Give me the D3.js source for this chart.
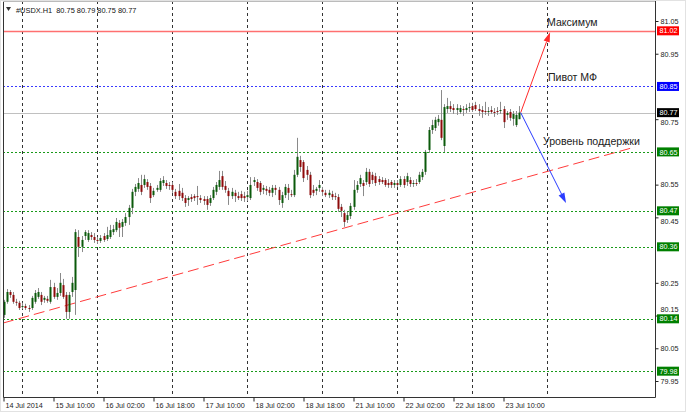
<!DOCTYPE html>
<html><head><meta charset="utf-8">
<script src="https://cdn.jsdelivr.net/npm/d3@7"></script>
<style>body{margin:0;background:#fff}svg{display:block;font-family:"Liberation Sans",Arial,sans-serif}</style>
</head><body><svg id="c" width="688" height="413"></svg>
<script>
const symbol = "#USDX.H1";
const timeLabels = ["14 Jul 2014","15 Jul 10:00","16 Jul 02:00","16 Jul 18:00","17 Jul 10:00","18 Jul 02:00","18 Jul 18:00","21 Jul 10:00","22 Jul 02:00","22 Jul 18:00","23 Jul 10:00"];
const timeLabelBars = [0,16,32,48,64,80,96,112,128,144,160];
const dayStartBars = [6,30,54,78,102,126,150,174];
const priceTicks = [79.95,80.05,80.15,80.25,80.45,80.55,80.75,80.95,81.05];

const opens = [80.152,80.192,80.222,80.213,80.192,80.189,80.176,80.179,80.173,80.173,80.192,80.207,80.213,80.198,80.201,80.192,80.237,80.207,80.219,80.243,80.213,80.161,80.222,80.228,80.390,80.360,80.393,80.381,80.396,80.390,80.381,80.378,80.393,80.384,80.390,80.405,80.411,80.433,80.421,80.433,80.451,80.479,80.528,80.537,80.549,80.549,80.558,80.546,80.518,80.534,80.534,80.555,80.555,80.549,80.549,80.528,80.531,80.525,80.509,80.503,80.512,80.515,80.515,80.509,80.506,80.506,80.494,80.509,80.528,80.543,80.576,80.546,80.531,80.515,80.525,80.515,80.521,80.515,80.512,80.509,80.558,80.558,80.555,80.534,80.537,80.534,80.525,80.540,80.534,80.494,80.518,80.540,80.521,80.518,80.580,80.625,80.619,80.595,80.580,80.534,80.531,80.540,80.534,80.525,80.518,80.521,80.515,80.512,80.482,80.463,80.442,80.454,80.482,80.534,80.552,80.555,80.558,80.589,80.580,80.576,80.567,80.564,80.564,80.555,80.558,80.549,80.555,80.549,80.567,80.558,80.564,80.552,80.555,80.558,80.573,80.589,80.656,80.717,80.723,80.741,80.748,80.668,80.781,80.790,80.784,80.778,80.772,80.781,80.778,80.784,80.790,80.793,80.781,80.778,80.775,80.772,80.778,80.772,80.775,80.775,80.781,80.763,80.772,80.751,80.732,80.750];
const highs = [80.198,80.231,80.228,80.222,80.201,80.195,80.189,80.186,80.182,80.210,80.228,80.234,80.222,80.210,80.210,80.259,80.250,80.234,80.280,80.262,80.222,80.222,80.268,80.414,80.411,80.393,80.411,80.411,80.405,80.402,80.390,80.396,80.402,80.421,80.427,80.427,80.448,80.442,80.445,80.463,80.488,80.537,80.552,80.570,80.580,80.580,80.567,80.555,80.540,80.549,80.570,80.576,80.564,80.558,80.558,80.537,80.552,80.540,80.518,80.515,80.521,80.521,80.546,80.518,80.515,80.515,80.518,80.543,80.558,80.592,80.592,80.561,80.540,80.540,80.534,80.528,80.531,80.528,80.531,80.573,80.573,80.567,80.561,80.549,80.546,80.543,80.549,80.549,80.543,80.528,80.552,80.552,80.534,80.595,80.693,80.638,80.625,80.607,80.589,80.549,80.543,80.564,80.543,80.534,80.534,80.531,80.525,80.521,80.491,80.473,80.467,80.494,80.564,80.561,80.580,80.564,80.601,80.598,80.589,80.586,80.576,80.573,80.570,80.567,80.564,80.564,80.564,80.576,80.576,80.586,80.573,80.564,80.567,80.589,80.598,80.656,80.726,80.748,80.757,80.763,80.839,80.796,80.815,80.805,80.796,80.796,80.793,80.790,80.796,80.800,80.800,80.803,80.796,80.790,80.803,80.787,80.790,80.784,80.787,80.803,80.790,80.775,80.781,80.775,80.775,80.790];
const lows = [80.143,80.186,80.204,80.186,80.180,80.167,80.170,80.167,80.161,80.167,80.186,80.201,80.182,80.189,80.189,80.186,80.201,80.198,80.210,80.201,80.140,80.140,80.207,80.152,80.329,80.344,80.381,80.375,80.381,80.372,80.369,80.372,80.375,80.378,80.384,80.396,80.405,80.390,80.390,80.424,80.427,80.460,80.515,80.528,80.518,80.540,80.534,80.494,80.512,80.528,80.528,80.546,80.537,80.534,80.525,80.506,80.503,80.500,80.482,80.485,80.497,80.500,80.488,80.494,80.488,80.473,80.485,80.503,80.518,80.534,80.534,80.525,80.488,80.506,80.497,80.503,80.500,80.497,80.500,80.503,80.546,80.531,80.518,80.521,80.518,80.515,80.512,80.518,80.488,80.479,80.509,80.503,80.512,80.512,80.573,80.589,80.558,80.564,80.509,80.515,80.518,80.528,80.515,80.512,80.509,80.503,80.503,80.467,80.451,80.421,80.433,80.445,80.473,80.525,80.543,80.515,80.549,80.543,80.552,80.546,80.549,80.552,80.543,80.540,80.540,80.540,80.543,80.543,80.540,80.546,80.543,80.543,80.546,80.552,80.564,80.580,80.647,80.705,80.714,80.730,80.686,80.650,80.769,80.772,80.766,80.763,80.766,80.760,80.769,80.772,80.772,80.775,80.760,80.754,80.763,80.760,80.766,80.757,80.763,80.766,80.723,80.748,80.745,80.730,80.726,80.750];
const closes = [80.192,80.222,80.213,80.192,80.189,80.173,80.179,80.173,80.170,80.204,80.219,80.222,80.192,80.204,80.195,80.237,80.207,80.219,80.250,80.207,80.161,80.213,80.250,80.405,80.360,80.381,80.405,80.402,80.390,80.381,80.378,80.387,80.381,80.396,80.411,80.414,80.436,80.418,80.436,80.451,80.479,80.528,80.543,80.555,80.528,80.567,80.543,80.509,80.531,80.540,80.561,80.564,80.546,80.546,80.534,80.515,80.515,80.509,80.494,80.509,80.506,80.509,80.512,80.503,80.500,80.488,80.509,80.534,80.549,80.564,80.543,80.534,80.515,80.528,80.515,80.509,80.509,80.509,80.518,80.549,80.564,80.540,80.528,80.540,80.531,80.525,80.540,80.534,80.503,80.518,80.543,80.525,80.518,80.580,80.635,80.604,80.570,80.580,80.518,80.525,80.537,80.549,80.528,80.518,80.525,80.512,80.512,80.476,80.470,80.436,80.457,80.485,80.534,80.549,80.570,80.546,80.589,80.552,80.564,80.555,80.558,80.558,80.549,80.549,80.549,80.555,80.549,80.567,80.549,80.576,80.552,80.555,80.552,80.580,80.589,80.650,80.717,80.732,80.748,80.751,80.693,80.787,80.790,80.781,80.778,80.784,80.784,80.778,80.784,80.787,80.778,80.781,80.775,80.772,80.772,80.775,80.772,80.769,80.772,80.778,80.741,80.769,80.754,80.766,80.763,80.770];

const resistance = 81.02;
const pivot = 80.85;
const bid = 80.77;
const supports = [80.65, 80.47, 80.36, 80.14, 79.98];
const trendLine = [[-0.16, 80.127], [202.1, 80.665]];
const arrowUp = [[165.5, 80.77], [174.9, 81.016]];
const arrowDown = [[165.5, 80.77], [180.0, 80.494]];
const notes = [
  {text: "Максимум", bar: 173.9, price: 81.035},
  {text: "Пивот МФ", bar: 174.2, price: 80.867},
  {text: "Уровень поддержки", bar: 172.6, price: 80.671}
];

const svg = d3.select("#c");
const L = 3, R = 655, T = 1, B = 397;
const x = d3.scaleLinear().domain([0, 165]).range([3.5, 3.5 + 165 * 3.125]);
const y = d3.scaleLinear().domain([79.95, 81.05]).range([381, 21]);
const fmt = d3.format(".2f");

// outer border
svg.append("rect").attr("x", 0.5).attr("y", 0.5).attr("width", 685).attr("height", 411)
  .attr("fill", "#fff").attr("stroke", "#e2e2e2");

svg.append("defs").append("clipPath").attr("id", "plot")
  .append("rect").attr("x", L).attr("y", T).attr("width", R - L).attr("height", B - T);
const g = svg.append("g").attr("clip-path", "url(#plot)");

// vertical grid at day starts
g.selectAll("line.vg").data(dayStartBars).join("line")
  .attr("x1", d => Math.round(x(d)) + 0.5).attr("x2", d => Math.round(x(d)) + 0.5)
  .attr("y1", T).attr("y2", B).attr("stroke", "#333").attr("stroke-dasharray", "3,3");

// level lines
const hline = (p, color, dash, w) => g.append("line")
  .attr("x1", L).attr("x2", R).attr("y1", Math.round(y(p)) + 0.5).attr("y2", Math.round(y(p)) + 0.5)
  .attr("stroke", color).attr("stroke-width", w || 1).attr("stroke-dasharray", dash || null);
hline(bid, "#c0c0c0");
hline(resistance, "#ff7070", null, 1.3);
hline(pivot, "#3a3aff", "2,2");
supports.forEach(p => hline(p, "#1a9a1a", "2,2"));

// trend line
g.append("line")
  .attr("x1", x(trendLine[0][0])).attr("y1", y(trendLine[0][1]))
  .attr("x2", x(trendLine[1][0])).attr("y2", y(trendLine[1][1]))
  .attr("stroke", "#ff3b3b").attr("stroke-width", 1).attr("stroke-dasharray", "11,5");

// candles
const idx = d3.range(closes.length);
const cg = g.append("g");
cg.selectAll("line.w").data(idx).join("line")
  .attr("x1", i => Math.round(x(i)) + 0.5).attr("x2", i => Math.round(x(i)) + 0.5)
  .attr("y1", i => y(highs[i])).attr("y2", i => y(lows[i]))
  .attr("stroke", "#8a8a8a").attr("stroke-width", 1);
cg.selectAll("rect.b").data(idx).join("rect")
  .attr("x", i => Math.round(x(i)) - 0.5).attr("width", 2)
  .attr("y", i => y(Math.max(opens[i], closes[i])))
  .attr("height", i => Math.max(1, Math.abs(y(opens[i]) - y(closes[i]))))
  .attr("fill", i => closes[i] > opens[i] ? "#0b5a0b" : (closes[i] < opens[i] ? "#8e0a0a" : "#555"));

// arrows
const arrow = (pts, color) => {
  const x1 = x(pts[0][0]), y1 = y(pts[0][1]), x2 = x(pts[1][0]), y2 = y(pts[1][1]);
  const a = Math.atan2(y2 - y1, x2 - x1), len = 10, wd = 3.2;
  const bx = x2 - len * Math.cos(a), by = y2 - len * Math.sin(a);
  g.append("line").attr("x1", x1).attr("y1", y1).attr("x2", bx).attr("y2", by)
    .attr("stroke", color).attr("stroke-width", 1);
  g.append("path").attr("d", `M${x2},${y2}L${bx + wd * Math.sin(a)},${by - wd * Math.cos(a)}L${bx - wd * Math.sin(a)},${by + wd * Math.cos(a)}Z`)
    .attr("fill", color);
};
arrow(arrowUp, "#ff2a2a");
arrow(arrowDown, "#2a3cff");

// notes
g.selectAll("text.n").data(notes).join("text")
  .attr("x", d => x(d.bar)).attr("y", d => y(d.price))
  .attr("font-size", 10.6).attr("fill", "#222").text(d => d.text);

// header
svg.append("path").attr("d", "M6,7L11,7L8.5,11Z").attr("fill", "#333");
svg.append("text").attr("x", 16).attr("y", 12.5).attr("font-size", 7.4).attr("fill", "#111")
  .attr("xml:space", "preserve")
  .text(`${symbol}  ${fmt(opens[165])} ${fmt(highs[165])} ${fmt(lows[165])} ${fmt(closes[165])}`);

// frame
svg.append("path").attr("d", `M${L + 0.5},${T}V${B + 0.5}H${R + 0.5}V${T}`)
  .attr("fill", "none").attr("stroke", "#333");
svg.append("line").attr("x1", L).attr("x2", R).attr("y1", T + 0.5).attr("y2", T + 0.5).attr("stroke", "#bbb");

// price axis
const ya = svg.append("g").attr("transform", `translate(${R + 0.5},0)`)
  .call(d3.axisRight(y).tickValues(priceTicks).tickSize(3).tickPadding(2).tickFormat(fmt));
ya.select(".domain").remove();
ya.selectAll("text").attr("font-size", 7.2).attr("fill", "#222").attr("font-family", "Liberation Sans, Arial");
ya.selectAll("line").attr("stroke", "#222");
// nudge the labels that peek out beside level boxes
ya.selectAll(".tick").filter(d => d === 80.45 || d === 80.75).select("text").attr("dy", "0.8em");
ya.selectAll(".tick").filter(d => d === 80.15).select("text").attr("dy", "-0.55em");

// time axis
const xa = svg.append("g").attr("transform", `translate(0,${B + 0.5})`)
  .call(d3.axisBottom(x).tickValues(timeLabelBars).tickSize(4).tickFormat((d, i) => timeLabels[i]));
xa.select(".domain").remove();
xa.selectAll(".tick line").attr("stroke", "#222");
xa.selectAll("text").attr("font-size", 7.2).attr("fill", "#222").attr("text-anchor", "start")
  .attr("x", 1.5).attr("dy", "0.55em").attr("font-family", "Liberation Sans, Arial");

// level price boxes
const box = (p, color) => {
  const yy = y(p);
  svg.append("rect").attr("x", 657).attr("y", yy - 4.5).attr("width", 22).attr("height", 9).attr("fill", color);
  svg.append("text").attr("x", 659.5).attr("y", yy + 2.6).attr("font-size", 7.2).attr("fill", "#fff").text(fmt(p));
};
box(resistance, "#ff0000");
box(pivot, "#0000ff");
box(bid, "#000000");
supports.forEach(p => box(p, "#008000"));
</script></body></html>
